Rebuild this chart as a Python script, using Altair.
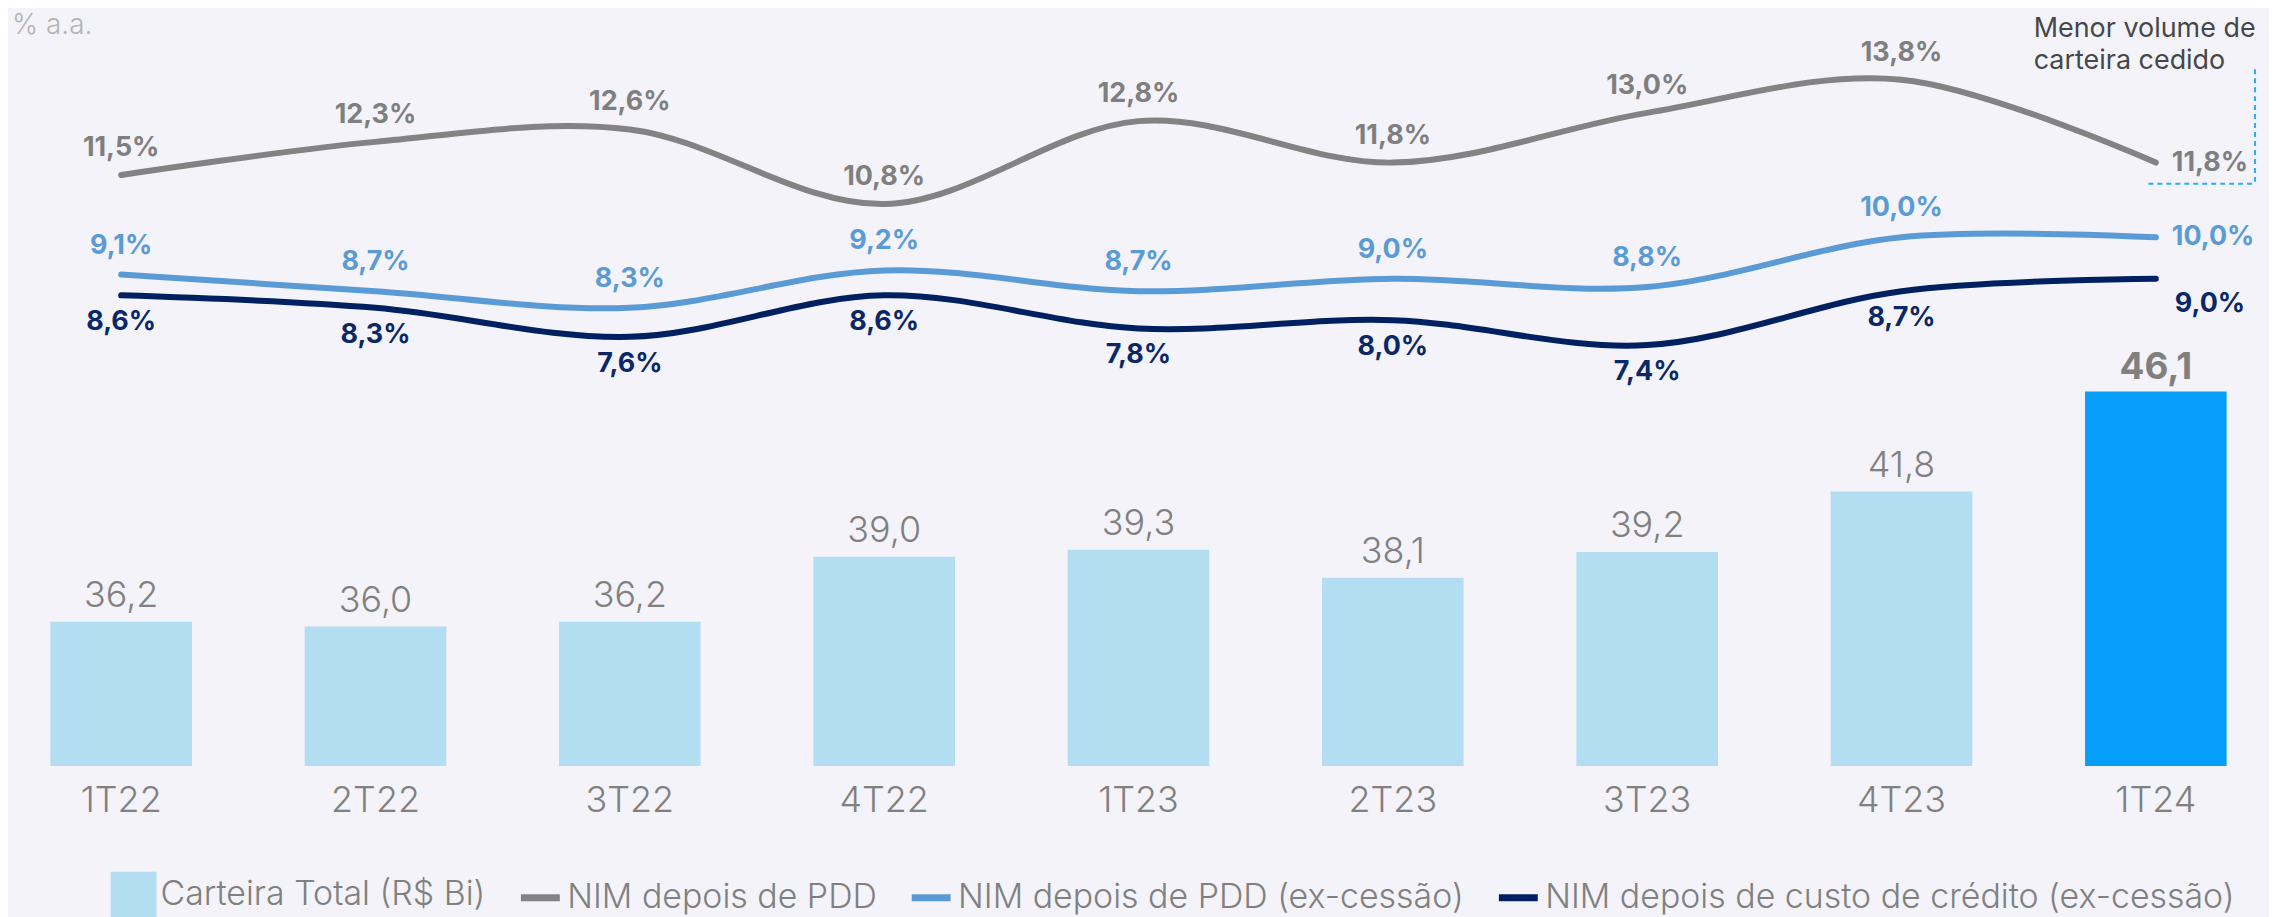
import altair as alt
import pandas as pd

# ---------------- data ----------------
quarters = ["1T22", "2T22", "3T22", "4T22", "1T23", "2T23", "3T23", "4T23", "1T24"]
carteira = [36.2, 36.0, 36.2, 39.0, 39.3, 38.1, 39.2, 41.8, 46.1]
nim_pdd = [11.5, 12.3, 12.6, 10.8, 12.8, 11.8, 13.0, 13.8, 11.8]
nim_pdd_ex = [9.1, 8.7, 8.3, 9.2, 8.7, 9.0, 8.8, 10.0, 10.0]
nim_custo_ex = [8.6, 8.3, 7.6, 8.6, 7.8, 8.0, 7.4, 8.7, 9.0]

series_names = [
    "Carteira Total (R$ Bi)",
    "NIM depois de PDD",
    "NIM depois de PDD (ex-cessão)",
    "NIM depois de custo de crédito (ex-cessão)",
]
series_colors = ["#b3ddf1", "#838383", "#5b9bd5", "#002060"]
highlight_color = "#079efa"
unit_label = "% a.a."
note_lines = ["Menor volume de", "carteira cedido"]

# ---------------- tables ----------------
def br(v, suffix=""):
    return f"{v:.1f}".replace(".", ",") + suffix

bars_df = pd.DataFrame({
    "quarter": quarters,
    "value": carteira,
    "label": [br(v) for v in carteira],
    "series": series_names[0],
})

rows = []
for name, vals in zip(series_names[1:], [nim_pdd, nim_pdd_ex, nim_custo_ex]):
    for q, v in zip(quarters, vals):
        rows.append({"quarter": q, "value": v, "label": br(v, "%"), "series": name})
lines_df = pd.DataFrame(rows)

last_q = quarters[-1]
FONT = "Inter"
GRAY_TXT = "#808080"

color_scale = alt.Scale(domain=series_names, range=series_colors)
legend = alt.Legend(
    orient="none", legendX=109, legendY=871, direction="horizontal", title=None,
    labelFont=FONT, labelFontSize=34, labelFontWeight=300, labelColor=GRAY_TXT,
    symbolSize=alt.ExprRef(expr="datum.index === 0 ? 2116 : 1520"),
    labelOffset=10, columnPadding=20, padding=0,
    labelLimit=1000, symbolOpacity=1,
    symbolType=alt.ExprRef(expr="datum.index === 0 ? 'square' : 'stroke'"),
    symbolStrokeWidth=alt.ExprRef(expr="datum.index === 0 ? 0 : 7"),
    symbolFillColor=alt.ExprRef(expr="scale('color', datum.value)"),
    symbolStrokeColor=alt.ExprRef(expr="scale('color', datum.value)"),
)

x_enc = alt.X(
    "quarter:N", sort=quarters,
    scale=alt.Scale(paddingInner=0.4433, paddingOuter=0.1666),
    axis=alt.Axis(title=None, labelAngle=0, domain=False, ticks=False, grid=False,
                  labelFont=FONT, labelFontSize=36, labelFontWeight=300,
                  labelColor=GRAY_TXT, labelPadding=18),
)

bar_y_scale = alt.Scale(domain=[30, 62.53], nice=False, zero=False)
line_y_scale = alt.Scale(domain=[-2.751, 15.494], nice=False, zero=False)

# ---------------- bars ----------------
bars = alt.Chart(bars_df).mark_bar().encode(
    x=x_enc,
    y=alt.Y("value:Q", scale=bar_y_scale, axis=None),
    y2=alt.datum(30),
    color=alt.condition(
        alt.datum.quarter == last_q,
        alt.value(highlight_color),
        alt.Color("series:N", scale=color_scale, legend=legend),
    ),
)
bar_labels = alt.Chart(bars_df).transform_filter(alt.datum.quarter != last_q).mark_text(
    baseline="alphabetic", dy=-15, font=FONT, fontSize=36, fontWeight=300, color=GRAY_TXT
).encode(x=x_enc, y=alt.Y("value:Q", scale=bar_y_scale, axis=None), text="label:N")
bar_label_last = alt.Chart(bars_df).transform_filter(alt.datum.quarter == last_q).mark_text(
    baseline="alphabetic", dy=-13, font=FONT, fontSize=37, fontWeight="bold", color=GRAY_TXT
).encode(x=x_enc, y=alt.Y("value:Q", scale=bar_y_scale, axis=None), text="label:N")

bar_layer = alt.layer(bars, bar_labels, bar_label_last)

# ---------------- lines ----------------
lines = alt.Chart(lines_df).mark_line(
    strokeWidth=6, interpolate="cardinal", tension=0, strokeCap="round"
).encode(
    x=x_enc,
    y=alt.Y("value:Q", scale=line_y_scale, axis=None),
    color=alt.Color("series:N", scale=color_scale, legend=legend),
    detail="series:N",
)

label_specs = [
    (series_names[1], "#7f7f7f", -27, 16, 0),
    (series_names[2], "#5b9bd5", -29, 16, 0),
    (series_names[3], "#0b2866", 27, 19, 25),
]
label_layers = []
for name, col, dy, dx_last, dy_last in label_specs:
    base = alt.Chart(lines_df).transform_filter(alt.datum.series == name)
    label_layers.append(
        base.transform_filter(alt.datum.quarter != last_q).mark_text(
            align="center", baseline="middle", dy=dy, font=FONT, fontSize=27,
            fontWeight="bold", color=col
        ).encode(x=x_enc, y=alt.Y("value:Q", scale=line_y_scale, axis=None), text="label:N")
    )
    label_layers.append(
        base.transform_filter(alt.datum.quarter == last_q).mark_text(
            align="left", baseline="middle", dx=dx_last, dy=dy_last, font=FONT, fontSize=27,
            fontWeight="bold", color=col
        ).encode(x=x_enc, y=alt.Y("value:Q", scale=line_y_scale, axis=None), text="label:N")
    )

line_layer = alt.layer(lines, *label_layers)

# ---------------- annotations ----------------
unit_text = alt.Chart(pd.DataFrame({"t": [unit_label]})).mark_text(
    align="left", baseline="alphabetic", font=FONT, fontSize=28, fontWeight=300, color="#b3b3b3"
).encode(x=alt.value(4), y=alt.value(25), text="t:N")

note_text = alt.Chart(pd.DataFrame({"t": [note_lines]})).mark_text(
    align="left", baseline="alphabetic", font=FONT, fontSize=27, fontWeight=400,
    color="#474747", lineHeight=32
).encode(x=alt.value(2032), y=alt.value(28), text="t")

bracket_v = alt.Chart(pd.DataFrame({"k": [0]})).mark_rule(
    color="#29b0f0", strokeWidth=2, strokeDash=[5, 4]
).encode(x=alt.value(2254), y=alt.value(60), y2=alt.value(175))
bracket_h = alt.Chart(pd.DataFrame({"k": [0]})).mark_rule(
    color="#29b0f0", strokeWidth=2, strokeDash=[5, 4]
).encode(x=alt.value(2147), x2=alt.value(2254), y=alt.value(175))

chart = alt.layer(bar_layer, line_layer, unit_text, note_text, bracket_v, bracket_h).resolve_scale(
    y="independent"
).properties(
    width=2268, height=759, background="#f3f3f9",
    padding={"left": 0, "top": 0, "right": 0, "bottom": 150},
    autosize=alt.AutoSizeParams(type="none"),
).configure_view(stroke=None)

chart.save("out.html", embed_options={"renderer": "svg", "actions": False})
